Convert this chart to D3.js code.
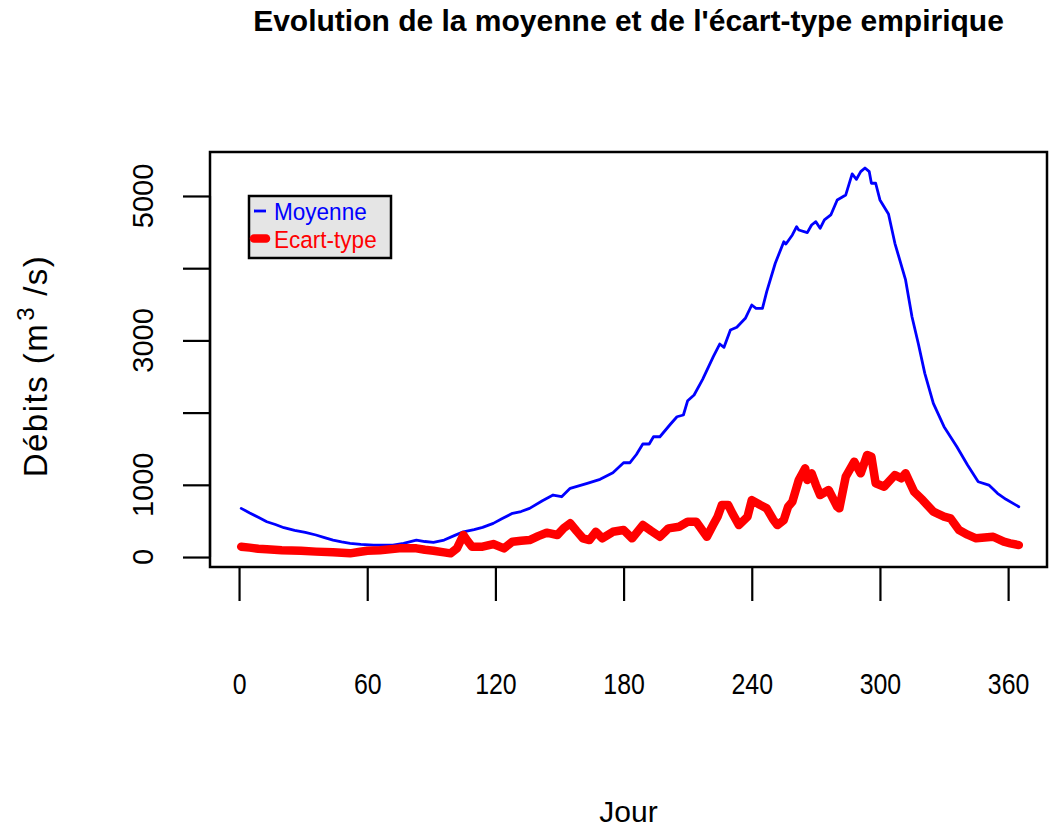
<!DOCTYPE html>
<html>
<head>
<meta charset="utf-8">
<script src="https://cdn.jsdelivr.net/npm/d3@7"></script>
<style>
  body { margin: 0; background: #fff; }
  svg { display: block; }
  text { font-family: "Liberation Sans", Arial, sans-serif; }
</style>
</head>
<body>
<div id="chart"></div>
<script>
'use strict';

// Moyenne journalière (m3/s)
var moyenneJours = [1, 5, 9, 13, 17, 21, 26, 31, 36, 40, 44, 48, 52, 57, 63, 68, 72, 77, 83, 87,
  91, 96, 101, 105, 110, 114, 119, 123, 128, 132, 136, 142, 147, 151, 155, 159, 163, 169, 175, 180,
  183, 186, 189, 192, 194, 197, 202, 205, 208, 210, 213, 217, 222, 225, 227, 230, 233, 237, 240, 242,
  245, 247, 251, 255, 256, 259, 261, 262, 266, 268, 270, 272, 274, 277, 280, 284, 287, 289, 291, 293,
  295, 296, 298, 300, 304, 307, 312, 315, 318, 321, 325, 330, 336, 341, 346, 351, 355, 359, 365]
var moyenneDebits = [674, 610, 550, 489, 450, 406, 370, 340, 305, 270, 235, 210, 190, 175, 166, 163, 166, 190, 235, 215,
  203, 235, 300, 350, 380, 411, 466, 530, 605, 630, 674, 780, 859, 835, 951, 985, 1021, 1076, 1168, 1306,
  1306, 1420, 1565, 1565, 1666, 1666, 1842, 1943, 1967, 2165, 2244, 2461, 2774, 2950, 2904, 3144, 3181, 3306, 3490, 3444,
  3444, 3675, 4068, 4367, 4335, 4460, 4575, 4529, 4492, 4598, 4644, 4552, 4668, 4737, 4945, 5014, 5305, 5231, 5337, 5388,
  5337, 5176, 5176, 4945, 4751, 4345, 3837, 3328, 2950, 2544, 2129, 1805, 1528, 1274, 1043, 997, 882, 799, 697]

// Ecart-type empirique (m3/s)
var ecartJours = [1, 5, 9, 13, 20, 29, 36, 44, 52, 56, 60, 66, 75, 83, 87, 91, 96, 99, 102, 105,
  107, 109, 114, 119, 124, 128, 132, 136, 140, 144, 149, 152, 155, 158, 161, 164, 167, 170, 175, 180,
  184, 189, 193, 197, 201, 206, 210, 214, 219, 222, 224, 226, 229, 231, 234, 238, 240, 244, 247, 250,
  252, 255, 257, 259, 262, 265, 266, 268, 270, 272, 276, 280, 281, 284, 288, 291, 294, 296, 298, 302,
  307, 310, 312, 316, 320, 325, 330, 333, 337, 341, 345, 349, 353, 358, 361, 365]
var ecartDebits = [143, 130, 115, 107, 95, 88, 75, 65, 51, 70, 88, 95, 120, 120, 100, 88, 65, 51, 120, 305,
  220, 143, 143, 180, 120, 212, 225, 235, 290, 337, 305, 400, 467, 360, 259, 235, 350, 259, 350, 374,
  259, 443, 360, 281, 397, 420, 489, 489, 281, 450, 558, 720, 720, 600, 443, 558, 789, 720, 674, 520,
  443, 512, 697, 766, 1066, 1228, 1066, 1159, 1000, 859, 928, 697, 674, 1113, 1320, 1159, 1413, 1389, 1021, 974,
  1136, 1090, 1159, 904, 789, 628, 560, 536, 374, 310, 259, 270, 281, 212, 190, 166]

var xTicks = [0, 60, 120, 180, 240, 300, 360]
var yTicks = [0, 1000, 2000, 3000, 4000, 5000]
var yLabels = [0, 1000, 3000, 5000]

var width = 1049, height = 831
var margin = {top: 152, right: 2, bottom: 264, left: 210}

var svg = d3.select('#chart').append('svg')
    .attr('width', width)
    .attr('height', height)

var x = d3.scaleLinear()
    .domain([-13.6, 378.2])
    .range([margin.left, width - margin.right])
var y = d3.scaleLinear()
    .domain([-138, 5609])
    .range([height - margin.bottom, margin.top])

var moyenne = moyenneJours.map(function(d, i){ return [d, moyenneDebits[i]] })
var ecart = ecartJours.map(function(d, i){ return [d, ecartDebits[i]] })

var line = d3.line()
    .x(function(d){ return x(d[0]) })
    .y(function(d){ return y(d[1]) })

svg.append('path')
    .datum(moyenne)
    .attr('d', line)
    .attr('fill', 'none')
    .attr('stroke', '#0000ff')
    .attr('stroke-width', 2.8)
    .attr('stroke-linejoin', 'round')
    .attr('stroke-linecap', 'round')

svg.append('path')
    .datum(ecart)
    .attr('d', line)
    .attr('fill', 'none')
    .attr('stroke', '#ff0000')
    .attr('stroke-width', 8.5)
    .attr('stroke-linejoin', 'round')
    .attr('stroke-linecap', 'round')

// box
svg.append('rect')
    .attr('x', margin.left)
    .attr('y', margin.top)
    .attr('width', width - margin.right - margin.left)
    .attr('height', height - margin.bottom - margin.top)
    .attr('fill', 'none')
    .attr('stroke', '#000')
    .attr('stroke-width', 2.5)

// x axis
var xAxis = d3.axisBottom(x).tickValues(xTicks).tickSize(34).tickPadding(72)
var gx = svg.append('g')
    .attr('transform', 'translate(0,' + (height - margin.bottom) + ')')
    .call(xAxis)
gx.select('.domain').attr('stroke-width', 2.2)
    .attr('d', 'M' + x(xTicks[0]) + ',0H' + x(xTicks[xTicks.length - 1]))
gx.selectAll('.tick line').attr('stroke-width', 2.2)
gx.selectAll('.tick text')
    .attr('font-family', '"Liberation Sans", Arial, sans-serif')
    .attr('font-size', 30)
    .attr('fill', '#000')
    .attr('dy', '0.71em')
    .attr('transform', 'scale(0.83,1)')

// y axis
var yAxis = d3.axisLeft(y).tickValues(yTicks).tickSize(27).tickFormat('')
var gy = svg.append('g')
    .attr('transform', 'translate(' + margin.left + ',0)')
    .call(yAxis)
gy.select('.domain').attr('stroke-width', 2.2)
    .attr('d', 'M0,' + y(yTicks[0]) + 'V' + y(yTicks[yTicks.length - 1]))
gy.selectAll('.tick line').attr('stroke-width', 2.2)

svg.append('g').selectAll('text')
    .data(yLabels)
    .join('text')
    .attr('font-size', 29)
    .attr('text-anchor', 'middle')
    .attr('transform', function(d){ return 'translate(153,' + y(d) + ') rotate(-90)' })
    .text(function(d){ return d })

// titles
svg.append('text')
    .attr('x', (margin.left + width - margin.right) / 2)
    .attr('y', 31)
    .attr('text-anchor', 'middle')
    .attr('font-size', 30)
    .attr('font-weight', 'bold')
    .text("Evolution de la moyenne et de l'écart-type empirique")

svg.append('text')
    .attr('x', (margin.left + width - margin.right) / 2)
    .attr('y', 822)
    .attr('text-anchor', 'middle')
    .attr('font-size', 30)
    .text('Jour')

var yTitle = svg.append('text')
    .attr('font-size', 33)
    .attr('letter-spacing', 1.5)
    .attr('text-anchor', 'middle')
    .attr('transform', 'translate(47,366) rotate(-90)')
yTitle.append('tspan').text('Débits (m')
yTitle.append('tspan').attr('font-size', 24).attr('dx', 2).attr('dy', -13).text('3')
yTitle.append('tspan').attr('dx', 10).attr('dy', 13).text('/s)')

// legend
var legendItems = [
  {label: 'Moyenne', color: '#0000ff', lw: 2.8},
  {label: 'Ecart-type', color: '#ff0000', lw: 8.5}
]
var legend = svg.append('g').attr('transform', 'translate(249,196)')
legend.append('rect')
    .attr('width', 142)
    .attr('height', 62)
    .attr('fill', '#e5e5e5')
    .attr('stroke', '#000')
    .attr('stroke-width', 2.5)
var li = legend.selectAll('g.item')
    .data(legendItems)
    .join('g')
    .attr('class', 'item')
    .attr('transform', function(d, i){ return 'translate(0,' + (15 + i * 27.5) + ')' })
li.append('line')
    .attr('x1', 5).attr('x2', 17)
    .attr('stroke', function(d){ return d.color })
    .attr('stroke-width', function(d){ return d.lw })
    .attr('stroke-linecap', function(d){ return d.lw > 5 ? 'round' : 'butt' })
li.append('text')
    .attr('transform', 'translate(25,9) scale(0.92,1)')
    .attr('font-size', 24.5)
    .attr('fill', function(d){ return d.color })
    .text(function(d){ return d.label })
</script>
</body>
</html>
